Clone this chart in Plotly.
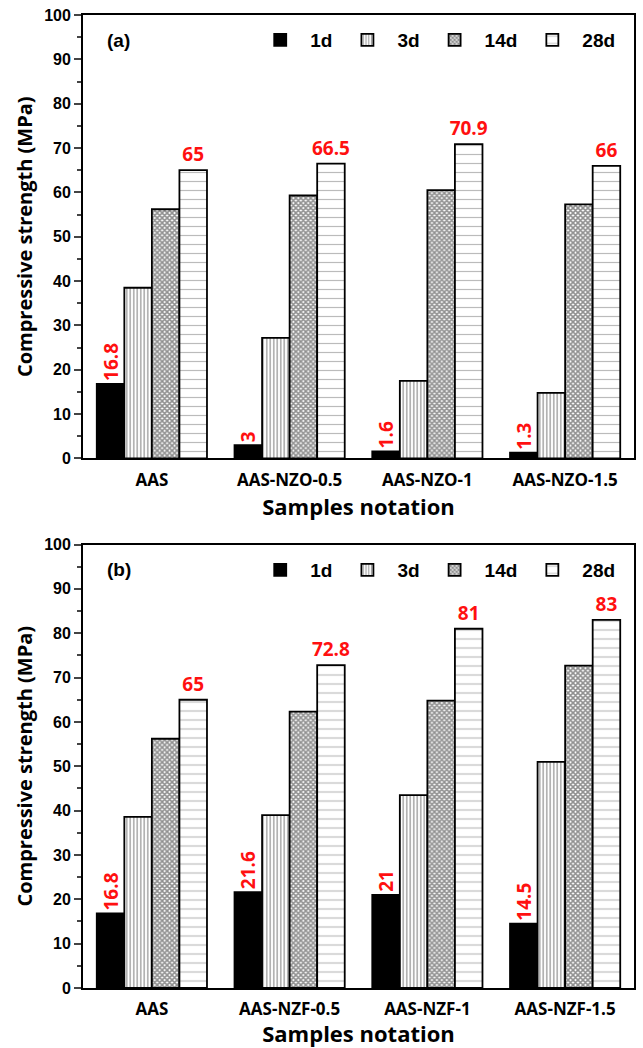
import plotly.graph_objects as go
from plotly.subplots import make_subplots

cats_a = ["AAS", "AAS-NZO-0.5", "AAS-NZO-1", "AAS-NZO-1.5"]
cats_b = ["AAS", "AAS-NZF-0.5", "AAS-NZF-1", "AAS-NZF-1.5"]
ages = ["1d", "3d", "14d", "28d"]

a_1d = [16.8, 3, 1.6, 1.3]
a_3d = [38.5, 27.2, 17.5, 14.8]
a_14d = [56.2, 59.3, 60.5, 57.3]
a_28d = [65, 66.5, 70.9, 66]

b_1d = [16.8, 21.6, 21, 14.5]
b_3d = [38.6, 39.0, 43.5, 51.0]
b_14d = [56.2, 62.3, 64.8, 72.7]
b_28d = [65, 72.8, 81, 83]

y_ticks = list(range(0, 101, 10))

fig = make_subplots(rows=2, cols=1, vertical_spacing=0.0884)

patterns = {
    "1d": dict(shape="", fgcolor="black", bgcolor="black"),
    "3d": dict(shape="|", fgcolor="#333333", bgcolor="white", size=3.5, solidity=0.38),
    "14d": dict(shape="x", fgcolor="#222222", bgcolor="white", size=3.5, solidity=0.7),
    "28d": dict(shape="-", fgcolor="#777777", bgcolor="white", size=9, solidity=0.13),
}
colors = {"1d": "black", "3d": "white", "14d": "white", "28d": "white"}


def fmt(v):
    return "%g" % v


def add_panel(row, cats, series, legend_name):
    for age, vals in zip(ages, series):
        text = None
        angle = 0
        if age == "1d":
            text = [fmt(v) for v in vals]
            angle = -90
        elif age == "28d":
            text = [fmt(v) for v in vals]
        fig.add_trace(go.Bar(
            x=cats, y=vals, name=age,
            marker=dict(color=colors[age], pattern=patterns[age],
                        line=dict(color="black", width=1.8)),
            text=text, textposition="outside", textangle=angle,
            textfont=dict(color="#ff1010", size=19, family="Open Sans", weight="bold"),
            constraintext="none", cliponaxis=False,
            legend=legend_name,
        ), row=row, col=1)


add_panel(1, cats_a, [a_1d, a_3d, a_14d, a_28d], "legend")
add_panel(2, cats_b, [b_1d, b_3d, b_14d, b_28d], "legend2")

for r in (1, 2):
    fig.update_yaxes(range=[0, 100], tickvals=y_ticks, ticks="outside", ticklen=7, tickwidth=1.8,
                     minor=dict(dtick=5, ticks="outside", ticklen=4, tickwidth=1.5),
                     showline=True, linewidth=1.8, linecolor="black", mirror=True,
                     showgrid=False, zeroline=False,
                     tickfont=dict(family="Arial", size=16, color="black", weight="bold"),
                     title=dict(text="Compressive strength (MPa)",
                                font=dict(family="Open Sans", size=20, color="black", weight="bold"),
                                standoff=6),
                     row=r, col=1)
    fig.update_xaxes(showline=True, linewidth=1.8, linecolor="black", mirror=True,
                     ticks="", showgrid=False, range=[-0.5, 3.5], ticklabelstandoff=5,
                     tickfont=dict(family="Open Sans", size=17, color="black", weight="bold"),
                     title=dict(text="Samples notation",
                                font=dict(family="Open Sans", size=22, color="black", weight="bold"),
                                standoff=2),
                     row=r, col=1)

leg_common = dict(orientation="h", xanchor="right", yanchor="middle", x=0.975,
                  font=dict(family="Arial", size=19, color="black", weight="bold"),
                  bgcolor="rgba(0,0,0,0)", itemwidth=50, tracegroupgap=0)
fig.update_layout(
    legend=dict(y=0.9743, yref="paper", **leg_common),
    legend2=dict(y=0.4296, yref="paper", **leg_common),
)

for lbl, yy in (("(a)", 0.9743), ("(b)", 0.4296)):
    fig.add_annotation(text=lbl, xref="paper", yref="paper", x=0.04, y=yy,
                       xanchor="left", yanchor="middle", showarrow=False,
                       font=dict(family="Arial", size=19, color="black", weight="bold"))

fig.update_layout(
    width=643, height=1048,
    margin=dict(l=83, r=7, t=15, b=60),
    plot_bgcolor="white", paper_bgcolor="white",
    barmode="group", bargap=0.2, bargroupgap=0.0,
    showlegend=True,
)

fig.write_html("out.html")
